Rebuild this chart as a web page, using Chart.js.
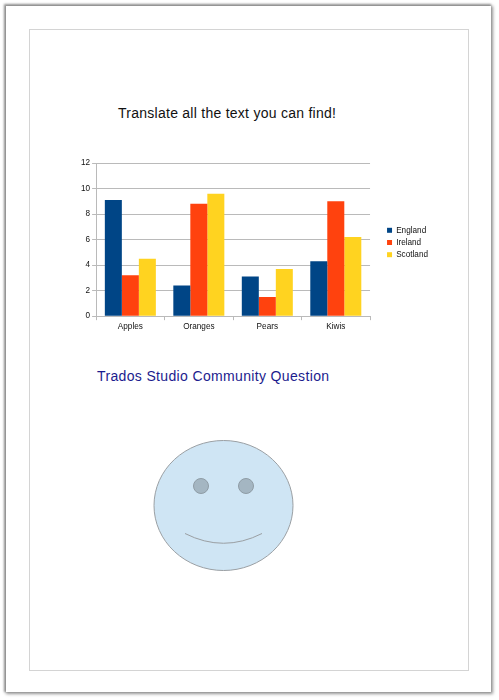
<!DOCTYPE html>
<html><head><meta charset="utf-8">
<script src="https://cdn.jsdelivr.net/npm/chart.js@4"></script>
<style>
html,body{margin:0;padding:0;background:#fff;width:499px;height:700px;overflow:hidden;font-family:"Liberation Sans",Arial,sans-serif}
#page{position:absolute;left:6px;top:6px;width:485px;height:686px;background:#fff;box-shadow:-1px -1px 2px 1px rgba(120,120,120,.75),1px 1px 3px 1px rgba(120,120,120,.75)}
#inner{position:absolute;left:29px;top:29px;width:438px;height:640px;border:1px solid #d4d4d4}
.t{position:absolute;white-space:nowrap;font-size:14px;line-height:20px}
#t1{left:118px;top:103px;color:#111;letter-spacing:.26px}
#t2{left:97px;top:366px;color:#1c1c8e;letter-spacing:.35px}
#wrap{position:absolute;left:70px;top:150px;width:380px;height:190px}
svg{position:absolute;left:0;top:0}
</style></head><body>
<div id="page"></div><div id="inner"></div>
<div class="t" id="t1">Translate all the text you can find!</div>
<div class="t" id="t2">Trados Studio Community Question</div>
<div id="wrap"><canvas id="c" width="380" height="190"></canvas></div>
<svg width="499" height="700">
<ellipse cx="223.5" cy="505.5" rx="69.5" ry="65" fill="#cfe5f4" stroke="#9a9fa3" stroke-width="1"/>
<circle cx="201" cy="486" r="7.5" fill="#a4b6c2" stroke="#8f9ca5" stroke-width="1"/>
<circle cx="246" cy="486" r="7.5" fill="#a4b6c2" stroke="#8f9ca5" stroke-width="1"/>
<path d="M185 533.5 Q223.5 553 262 533.5" fill="none" stroke="#9a9fa3" stroke-width="1"/>
</svg>
<script>
const categories=["Apples","Oranges","Pears","Kiwis"];
const england=[9.1,2.4,3.1,4.3];
const ireland=[3.2,8.8,1.5,9.0];
const scotland=[4.5,9.6,3.7,6.2];
const yMax=12, yStep=2;
const grey="#bababa", font={family:"'Liberation Sans',Arial,sans-serif",size:8.2};
Chart.defaults.color="#111";
const legendShift={id:"legendShift",afterLayout(chart){
  const l=chart.legend;
  l.left+=13;l.right+=13;l.top-=6;l.bottom-=6;
}};
new Chart(document.getElementById("c"),{
 type:"bar",
 data:{labels:categories,datasets:[
  {label:"England",data:england,backgroundColor:"#004586"},
  {label:"Ireland",data:ireland,backgroundColor:"#ff420e"},
  {label:"Scotland",data:scotland,backgroundColor:"#ffd320"}]},
 plugins:[legendShift],
 options:{responsive:false,animation:false,
  layout:{padding:{top:13,left:9,right:25,bottom:6}},
  datasets:{bar:{barPercentage:1,categoryPercentage:0.745}},
  plugins:{tooltip:{enabled:false},
   legend:{position:"right",align:"center",
    labels:{boxWidth:5,boxHeight:5,padding:4,font:font,color:"#111"}}},
  scales:{
   x:{grid:{display:true,drawOnChartArea:false,color:grey,tickLength:4,offset:true},
      border:{color:grey},ticks:{font:font,padding:2,maxRotation:0}},
   y:{min:0,max:yMax,grid:{color:grey,tickLength:4},border:{color:grey},
      ticks:{stepSize:yStep,font:font,padding:2}}
  }}
});
</script>
</body></html>
